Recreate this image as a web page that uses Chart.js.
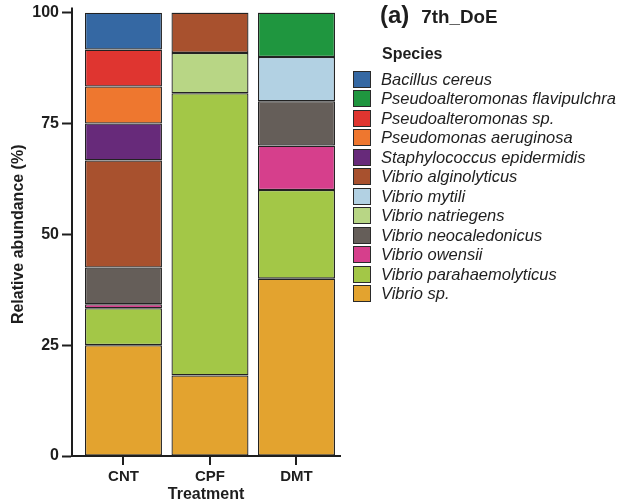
<!DOCTYPE html>
<html>
<head>
<meta charset="utf-8">
<script src="https://cdn.jsdelivr.net/npm/chart.js@4/dist/chart.umd.min.js"></script>
<style>
    html, body { margin: 0; padding: 0; background: #fff; }
    body { font-family: "Liberation Sans", Arial, sans-serif; color: #1e1e1e; }
    #wrap { position: relative; width: 622px; height: 504px; }
    #chart { position: absolute; left: 0; top: 0; }
    #panelTitle { position: absolute; left: 380px; top: 1px; font-weight: bold; white-space: nowrap; }
    #panelTitle .tag { font-size: 24px; }
    #panelTitle .name { font-size: 18.8px; margin-left: 12px; }
    #legendTitle { position: absolute; left: 382px; top: 45px; font-size: 16px; font-weight: bold; }
    .leg-row { position: absolute; left: 353px; height: 17px; display: flex; align-items: center; white-space: nowrap; }
    .leg-box { width: 16px; height: 15px; border: 1.5px solid #2a2a2a; margin-right: 10px; }
    .leg-text { font-size: 16.5px; font-style: italic; }
</style>
</head>
<body>
<div id="wrap">
    <canvas id="chart" width="622" height="504"></canvas>
    <div id="panelTitle"><span class="tag">(a)</span><span class="name">7th_DoE</span></div>
    <div id="legendTitle">Species</div>
    <div id="legend"></div>
</div>
<script>
const treatments = ['CNT', 'CPF', 'DMT'];
const yTicks = [0, 25, 50, 75, 100];

// legend order (top of stack first)
const species = [
    'Bacillus cereus',
    'Pseudoalteromonas flavipulchra',
    'Pseudoalteromonas sp.',
    'Pseudomonas aeruginosa',
    'Staphylococcus epidermidis',
    'Vibrio alginolyticus',
    'Vibrio mytili',
    'Vibrio natriegens',
    'Vibrio neocaledonicus',
    'Vibrio owensii',
    'Vibrio parahaemolyticus',
    'Vibrio sp.'
];
const speciesColors = [
    '#3568a3', '#1f963f', '#df3530', '#ee772f', '#672a7a', '#a8512e',
    '#b2d1e3', '#b8d685', '#655e59', '#d63f8c', '#a3c747', '#e3a32f'
];

// relative abundance (%) per species for CNT, CPF, DMT
const bacillusCereus = [8.33, 0, 0];
const pseudoaltFlavipulchra = [0, 0, 10];
const pseudoaltSp = [8.33, 0, 0];
const pseudomonasAeruginosa = [8.33, 0, 0];
const staphEpidermidis = [8.33, 0, 0];
const vibrioAlginolyticus = [24.17, 9.09, 0];
const vibrioMytili = [0, 0, 10];
const vibrioNatriegens = [0, 9.09, 0];
const vibrioNeocaledonicus = [8.27, 0, 10];
const vibrioOwensii = [0.9, 0, 10];
const vibrioParahaemolyticus = [8.33, 63.64, 20];
const vibrioSp = [25, 18.18, 40];

const speciesValues = [
    bacillusCereus, pseudoaltFlavipulchra, pseudoaltSp, pseudomonasAeruginosa,
    staphEpidermidis, vibrioAlginolyticus, vibrioMytili, vibrioNatriegens,
    vibrioNeocaledonicus, vibrioOwensii, vibrioParahaemolyticus, vibrioSp
];

const AXIS_COLOR = '#1e1e1e';

function buildLegend() {
    const box = document.getElementById('legend');
    species.forEach((name, i) => {
        const row = document.createElement('div');
        row.className = 'leg-row';
        row.style.top = (70.5 + i * 19.5) + 'px';
        row.innerHTML = `<div class="leg-box" style="background:${speciesColors[i]}"></div><span class="leg-text">${name}</span>`;
        box.appendChild(row);
    });
}

// x tick marks under the axis + small overshoot of the y axis above 100
const axisMarks = {
    id: 'axisMarks',
    afterDraw(chart) {
        const { ctx, chartArea, scales } = chart;
        ctx.save();
        ctx.strokeStyle = AXIS_COLOR;
        ctx.lineWidth = 2;
        ctx.beginPath();
        treatments.forEach((t, i) => {
            const px = Math.round(scales.x.getPixelForValue(i));
            ctx.moveTo(px, chartArea.bottom);
            ctx.lineTo(px, chartArea.bottom + 9);
        });
        ctx.moveTo(chartArea.left, chartArea.top - 5);
        ctx.lineTo(chartArea.left, chartArea.top);
        ctx.stroke();
        ctx.restore();
    }
};

function renderChart() {
    // stack from the bottom: Vibrio sp. first
    const datasets = species.map((name, i) => ({
        label: name,
        data: speciesValues[i]
            .map((v, j) => ({ x: j, y: v }))
            .filter(p => p.y > 0),
        backgroundColor: speciesColors[i],
        borderColor: '#222',
        borderWidth: 1.3,
        borderSkipped: false,
        barPercentage: 0.89,
        categoryPercentage: 1
    })).reverse();

    const ctx = document.getElementById('chart').getContext('2d');
    new Chart(ctx, {
        type: 'bar',
        data: { datasets },
        plugins: [axisMarks],
        options: {
            responsive: false,
            animation: false,
            layout: { padding: { left: 0, top: 12, right: 282, bottom: 0 } },
            plugins: {
                legend: { display: false },
                tooltip: { enabled: false }
            },
            scales: {
                x: {
                    type: 'linear',
                    stacked: true,
                    offset: false,
                    min: -0.595,
                    max: 2.503,
                    afterBuildTicks: (scale) => {
                        scale.ticks = treatments.map((t, i) => ({ value: i }));
                    },
                    afterFit: (scale) => { scale.height = 48; },
                    ticks: {
                        callback: (v) => treatments[v] ?? '',
                        color: AXIS_COLOR,
                        font: { family: '"Liberation Sans", Arial', size: 15, weight: 'bold' },
                        padding: 12,
                        maxRotation: 0
                    },
                    grid: { display: false, drawTicks: false },
                    border: { display: true, width: 2, color: AXIS_COLOR },
                    title: {
                        display: true,
                        text: 'Treatment',
                        color: AXIS_COLOR,
                        font: { family: '"Liberation Sans", Arial', size: 16, weight: 'bold' },
                        padding: { top: 0, bottom: 0 }
                    }
                },
                y: {
                    stacked: true,
                    min: 0,
                    max: 100,
                    afterBuildTicks: (scale) => {
                        scale.ticks = yTicks.map(v => ({ value: v }));
                    },
                    afterFit: (scale) => { scale.width = 72; },
                    ticks: {
                        color: AXIS_COLOR,
                        font: { family: '"Liberation Sans", Arial', size: 16, weight: 'bold' },
                        padding: 3
                    },
                    grid: { drawOnChartArea: false, tickLength: 10, tickWidth: 2, tickColor: AXIS_COLOR },
                    border: { display: true, width: 2, color: AXIS_COLOR },
                    title: {
                        display: true,
                        text: 'Relative abundance (%)',
                        color: AXIS_COLOR,
                        font: { family: '"Liberation Sans", Arial', size: 16, weight: 'bold' },
                        padding: { top: 9, bottom: 0 }
                    }
                }
            }
        }
    });
}

document.addEventListener('DOMContentLoaded', () => {
    buildLegend();
    renderChart();
});
</script>
</body>
</html>
